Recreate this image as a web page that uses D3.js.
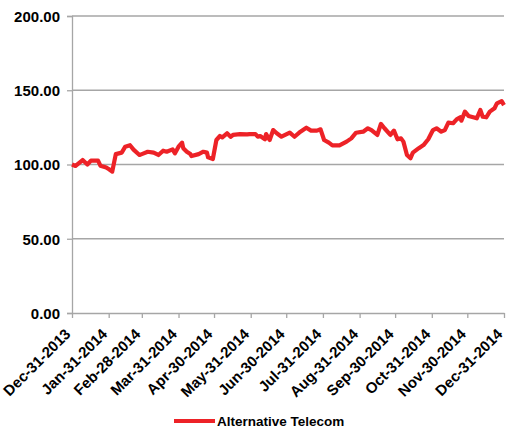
<!DOCTYPE html>
<html><head><meta charset="utf-8">
<script src="https://cdn.jsdelivr.net/npm/d3@7"></script>
<style>body{margin:0;background:#fff}svg{display:block}text{font-family:"Liberation Sans",Arial,sans-serif;font-weight:bold;fill:#000}</style>
</head><body><svg id="c" width="507" height="432"></svg>
<script>
const seriesName = "Alternative Telecom";
const dates = ["2013-12-31","2014-01-03","2014-01-09","2014-01-13","2014-01-16","2014-01-22","2014-01-24","2014-01-29","2014-01-31","2014-02-03",
"2014-02-06","2014-02-11","2014-02-14","2014-02-18","2014-02-21","2014-02-26","2014-02-28","2014-03-05","2014-03-10","2014-03-14",
"2014-03-18","2014-03-21","2014-03-26","2014-03-28","2014-03-31","2014-04-03","2014-04-04","2014-04-07","2014-04-10","2014-04-11",
"2014-04-17","2014-04-21","2014-04-24","2014-04-25","2014-04-29","2014-05-02","2014-05-05","2014-05-07","2014-05-11","2014-05-14",
"2014-05-16","2014-05-22","2014-05-28","2014-05-30","2014-06-02","2014-06-04","2014-06-06","2014-06-08","2014-06-12","2014-06-13",
"2014-06-16","2014-06-19","2014-06-22","2014-06-26","2014-07-03","2014-07-07","2014-07-12","2014-07-17","2014-07-21","2014-07-26",
"2014-07-29","2014-08-01","2014-08-05","2014-08-08","2014-08-14","2014-08-20","2014-08-24","2014-08-28","2014-09-03","2014-09-07",
"2014-09-10","2014-09-15","2014-09-18","2014-09-21","2014-09-26","2014-09-29","2014-10-02","2014-10-05","2014-10-07","2014-10-10",
"2014-10-13","2014-10-15","2014-10-20","2014-10-24","2014-10-28","2014-11-01","2014-11-04","2014-11-08","2014-11-11","2014-11-14",
"2014-11-18","2014-11-21","2014-11-24","2014-11-25","2014-11-28","2014-12-01","2014-12-05","2014-12-08","2014-12-11","2014-12-13",
"2014-12-16","2014-12-19","2014-12-23","2014-12-25","2014-12-29","2014-12-31"];
const values = [100,99,103,100,102.6,102.6,99.2,97.9,97,95.2,
107,108,112,113,110,106.4,107,108.6,108,106.4,
109.3,108.6,110.2,107.5,112,114.7,111,108.6,107,105.7,
107,108.6,108,104.8,103.7,116.5,119.2,118.3,121,118.7,
119.9,120.5,120.3,120.5,120.5,120.5,118.7,119.2,117,120.5,
116.5,123.2,121,118.7,121.4,118.7,122.1,124.8,122.8,122.8,
123.7,116.5,114.7,112.9,112.9,115.4,117.6,121.4,122.1,124.4,
123.2,119.9,127.3,124.4,119.9,122.8,117,117.6,115.4,106.4,
104.2,108,111,113.1,117,123.2,124.4,122.1,123.2,128.2,
127.8,130.4,131.8,129.5,135.6,132.7,131.8,131.1,136.7,132.2,
131.8,135.6,137.9,141.2,142.7,140];
const yTicks = [0,50,100,150,200];
const xTickDates = ["2013-12-31","2014-01-31","2014-02-28","2014-03-31","2014-04-30","2014-05-31","2014-06-30","2014-07-31","2014-08-31","2014-09-30","2014-10-31","2014-11-30","2014-12-31"];

const parse = d3.timeParse("%Y-%m-%d");
const fmt = d3.timeFormat("%b-%d-%Y");
const data = dates.map((d,i)=>({d:parse(d), v:values[i]}));
const svg = d3.select("#c");
const L=72, R=504, T=16, B=313;
const x = d3.scaleTime().domain([parse(dates[0]), parse(dates[dates.length-1])]).range([L,R]);
const y = d3.scaleLinear().domain([0,200]).range([B,T]);
const grid="#a6a6a6";

svg.append("g").selectAll("line").data(yTicks.filter(t=>t>0)).join("line")
  .attr("x1",L).attr("x2",R).attr("y1",d=>y(d)).attr("y2",d=>y(d))
  .attr("stroke",grid).attr("stroke-width",1.3);

const ya = svg.append("g").attr("transform",`translate(${L},0)`)
  .call(d3.axisLeft(y).tickValues(yTicks).tickFormat(d3.format(".2f")).tickSize(5).tickPadding(7));
ya.select(".domain").attr("stroke",grid).attr("stroke-width",1.3);
ya.selectAll(".tick line").attr("stroke",grid).attr("stroke-width",1.3);
ya.selectAll("text").style("font-size","15px").attr("dy","0.36em");

const xa = svg.append("g").attr("transform",`translate(0,${B})`)
  .call(d3.axisBottom(x).tickValues(xTickDates.map(parse)).tickFormat(fmt).tickSize(5).tickSizeOuter(0));
xa.select(".domain").attr("stroke",grid).attr("stroke-width",1.3);
xa.selectAll(".tick line").attr("stroke",grid).attr("stroke-width",1.3);
xa.selectAll("text").style("font-size","15px").attr("text-anchor","end")
  .attr("dy",null).attr("y",0)
  .attr("transform","translate(-1,22) rotate(-45)");

svg.append("path").datum(data)
  .attr("d", d3.line().x(d=>x(d.d)).y(d=>y(d.v)))
  .attr("fill","none").attr("stroke","#ED2227").attr("stroke-width",4.2).attr("stroke-linejoin","round");

const lg = svg.append("g");
lg.append("line").attr("x1",174).attr("x2",215).attr("y1",421).attr("y2",421).attr("stroke","#ED2227").attr("stroke-width",4);
lg.append("text").attr("x",217).attr("y",426).style("font-size","13.5px").text(seriesName);
</script></body></html>
